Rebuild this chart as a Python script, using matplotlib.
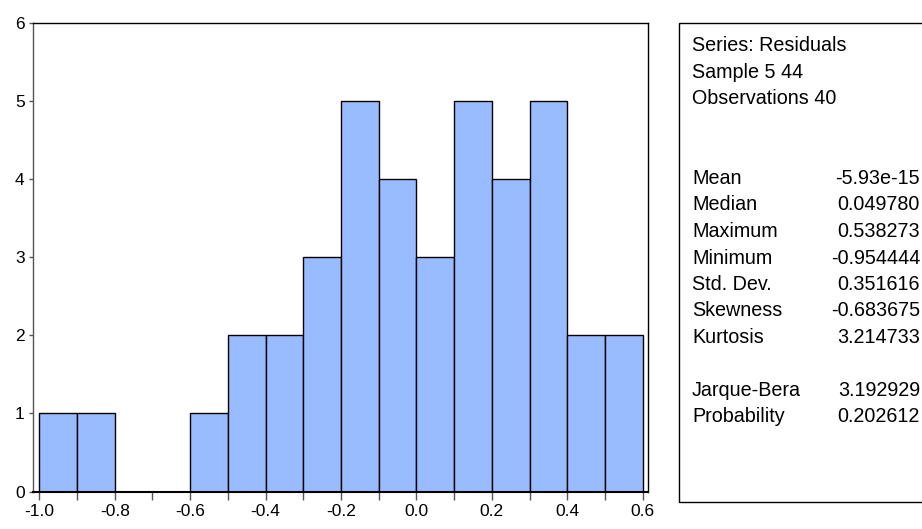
import matplotlib
matplotlib.use('Agg')
import matplotlib.pyplot as plt
import numpy as np

plt.rcParams['font.family'] = ['Liberation Sans', 'DejaVu Sans']

bin_left = [-1.0, -0.9, -0.8, -0.7, -0.6, -0.5, -0.4, -0.3,
            -0.2, -0.1, 0.0, 0.1, 0.2, 0.3, 0.4, 0.5]
counts = [1, 1, 0, 0, 1, 2, 2, 3, 5, 4, 3, 5, 4, 5, 2, 2]
bin_width = 0.1

x_major = [-1.0, -0.8, -0.6, -0.4, -0.2, 0.0, 0.2, 0.4, 0.6]
y_ticks = [0, 1, 2, 3, 4, 5, 6]

stat_header = ['Series: Residuals', 'Sample 5 44', 'Observations 40']
stat_names = ['Mean', 'Median', 'Maximum', 'Minimum', 'Std. Dev.',
              'Skewness', 'Kurtosis']
stat_values = ['-5.93e-15', '0.049780', '0.538273', '-0.954444',
               '0.351616', '-0.683675', '3.214733']
test_names = ['Jarque-Bera', 'Probability']
test_values = ['3.192929', '0.202612']

W, H = 922, 529
fig = plt.figure(figsize=(W / 100, H / 100), dpi=100)
ax = fig.add_axes([33 / W, 1 - 491.5 / H, (648 - 33) / W, (491.5 - 23.3) / H])

nonzero = [i for i, c in enumerate(counts) if c > 0]
ax.bar([bin_left[i] for i in nonzero], [counts[i] for i in nonzero],
       width=bin_width, align='edge', color='#99bbff',
       edgecolor='black', linewidth=1.0, zorder=2)

ax.set_xlim(-1.0167, 0.614)
ax.set_ylim(0, 6)
ax.set_xticks(x_major)
ax.set_xticklabels([f'{v:.1f}' for v in x_major])
ax.set_xticks(np.round(np.arange(-0.9, 0.6, 0.2), 1), minor=True)
ax.set_yticks(y_ticks)
ax.tick_params(axis='x', which='both', direction='out', length=6,
               width=1, color='#555555', labelsize=12.5, pad=3)
ax.tick_params(axis='y', direction='out', length=3, width=1,
               color='#555555', labelsize=12.5, pad=3)
for s in ax.spines.values():
    s.set_linewidth(1.0)
    s.set_color('black')
ax.spines['left'].set_color('#555555')
ax.spines['bottom'].set_linewidth(1.5)

# statistics box
box = plt.Rectangle((679 / W, 1 - 501.7 / H), 260 / W, (501.7 - 23.3) / H,
                    transform=fig.transFigure, fill=False,
                    edgecolor='black', linewidth=1.0)
fig.patches.append(box)

step = 26.5
y0 = 46
fs = 14.2
for k, t in enumerate(stat_header):
    fig.text(692 / W, 1 - (y0 + step * k) / H, t, fontsize=fs, va='center')
for k, (n, v) in enumerate(zip(stat_names, stat_values)):
    y = 1 - (y0 + step * (k + 5)) / H
    fig.text(692 / W, y, n, fontsize=fs, va='center')
    fig.text(920 / W, y, v, fontsize=fs, va='center', ha='right')
for k, (n, v) in enumerate(zip(test_names, test_values)):
    y = 1 - (y0 + step * (k + 13)) / H
    fig.text(692 / W, y, n, fontsize=fs, va='center')
    fig.text(920 / W, y, v, fontsize=fs, va='center', ha='right')

fig.savefig('out.png', dpi=100)
